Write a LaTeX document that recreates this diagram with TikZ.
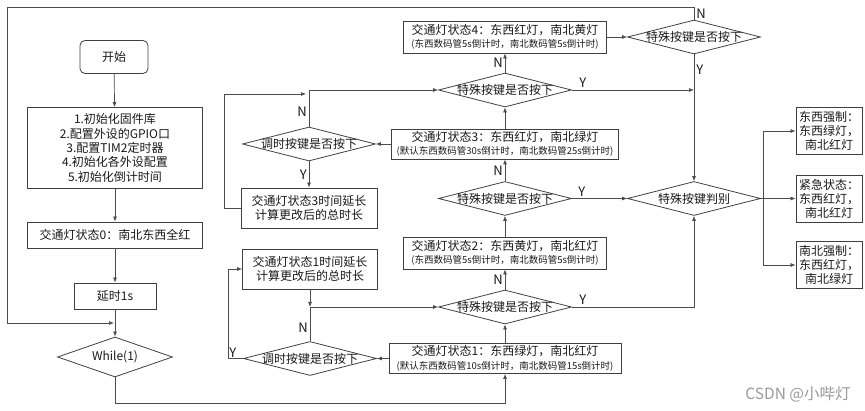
\documentclass[tikz,border=0pt]{standalone}
\usepackage{fontspec}
\setmainfont{Noto Sans CJK SC}
\usetikzlibrary{arrows.meta,shapes.geometric}

\tikzset{
  box/.style={draw=black!75, line width=0.8pt, align=center, inner sep=0pt},
  dia/.style={draw=black!75, line width=0.8pt, diamond, aspect=3.9,
    inner xsep=-5pt, inner ysep=0pt, minimum width=133pt, minimum height=34pt},
  ln/.style={draw=black!70, line width=0.7pt, ->},
  yn/.style={font=\fontsize{13}{14}\selectfont, inner sep=2pt},
}
\newcommand{\smalltxt}[1]{{\fontsize{9.5}{11}\selectfont #1}}

\begin{document}
\begin{tikzpicture}[x=1pt, y=-1pt, >={Latex[length=5pt,width=4pt]},
  font=\fontsize{12}{13.5}\selectfont, text=black!90]
\useasboundingbox (0,0) rectangle (865,411);
% left column: start up
\node[box, rounded corners=5pt, minimum width=68pt, minimum height=33pt] (start) at (114,57) {开始};
\node[box, minimum width=175pt, minimum height=81pt, font=\fontsize{12}{14.3}\selectfont] (init) at (115,148)
  {1.初始化固件库\\2.配置外设的GPIO口\\3.配置TIM2定时器\\4.初始化各外设配置\\5.初始化倒计时间};
\node[box, minimum width=175pt, minimum height=26pt] (s0) at (115,235) {交通灯状态0：南北东西全红};
\node[box, minimum width=82pt, minimum height=26pt] (delay) at (115,296) {延时1s};
\node[dia, minimum width=115pt, minimum height=40pt] (loop) at (115,357) {While(1)};
% middle column: the four states
\node[box, minimum width=232pt, minimum height=30pt] (s1) at (505,358.5)
  {交通灯状态1：东西绿灯，南北红灯\\\smalltxt{(默认东西数码管10s倒计时，南北数码管15s倒计时)}};
\node[dia] (k1) at (505,307) {特殊按键是否按下};
\node[box, minimum width=203pt, minimum height=32pt] (s2) at (505,253)
  {交通灯状态2：东西黄灯，南北红灯\\\smalltxt{(东西数码管5s倒计时，南北数码管5s倒计时)}};
\node[dia] (k2) at (505,198.5) {特殊按键是否按下};
\node[box, minimum width=227pt, minimum height=30pt] (s3) at (505,144)
  {交通灯状态3：东西红灯，南北绿灯\\\smalltxt{(默认东西数码管30s倒计时，南北数码管25s倒计时)}};
\node[dia] (k3) at (505,90) {特殊按键是否按下};
\node[box, minimum width=203pt, minimum height=32pt] (s4) at (505,37)
  {交通灯状态4：东西红灯，南北黄灯\\\smalltxt{(东西数码管5s倒计时，南北数码管5s倒计时)}};
% time adjust loops
\node[dia] (adj3) at (309,144) {调时按键是否按下};
\node[box, minimum width=136pt, minimum height=40pt] (ext3) at (309,208) {交通灯状态3时间延长\\计算更改后的总时长};
\node[box, minimum width=135pt, minimum height=40pt] (ext1) at (310,269) {交通灯状态1时间延长\\计算更改后的总时长};
\node[dia] (adj1) at (310,358.5) {调时按键是否按下};
% special keys
\node[dia] (k4) at (694,37) {特殊按键是否按下};
\node[dia] (judge) at (694,198.5) {特殊按键判别};
\node[box, minimum width=66pt, minimum height=47pt, font=\fontsize{12}{14}\selectfont] (ew) at (829,131) {东西强制：\\东西绿灯，\\南北红灯};
\node[box, minimum width=66pt, minimum height=47pt, font=\fontsize{12}{14}\selectfont] (emg) at (829,198.5) {紧急状态：\\东西红灯，\\南北红灯};
\node[box, minimum width=66pt, minimum height=47pt, font=\fontsize{12}{14}\selectfont] (ns) at (829,265) {南北强制：\\东西红灯，\\南北绿灯};
\node[text=black!40, font=\fontsize{15.5}{17}\selectfont] (mark) at (798,394) {CSDN @小哔灯};

\coordinate (corner) at (7,7);
\coordinate (entry) at (114,323);
\coordinate (m3) at (306,94);

\draw[ln] (start) -- (init);
\draw[ln] (init) -- (s0);
\draw[ln] (s0) -- (delay);
\draw[ln] (delay) -- (loop);
\draw[ln] (loop.south) -- ++(0,26) -| (s1.south);
% state chain
\draw[ln] (s1) -- (k1);
\draw[ln] (k1) -- node[yn, left]{N} (s2);
\draw[ln] (s2) -- (k2);
\draw[ln] (k2) -- node[yn, left]{N} (s3);
\draw[ln] (s3) -- (k3);
\draw[ln] (k3) -- node[yn, left]{N} (s4);
\draw[ln] (s4) -- (k4);
\draw[ln] (k4.north) -- node[yn, right]{N} (k4.north |- corner) -- (corner) |- (entry);
\draw[ln] (k4) -- node[yn, right, pos=0.12]{Y} (judge);
\draw[ln] (k3.east) -- node[yn, above, pos=0.09]{Y} (k3.east -| judge);
\draw[ln] (k2) -- node[yn, above, pos=0.18]{Y} (judge);
\draw[ln] (k1.east) -- node[yn, above, pos=0.09]{Y} (k1.east -| judge) -- (judge.south);
% adjust loops
\draw[ln] (s3) -- (adj3);
\draw[ln] (adj3.north) -- node[yn, left, pos=0.4]{N} (adj3.north |- k3.west) -- (k3.west);
\draw[ln] (adj3) -- node[yn, left]{Y} (ext3);
\draw[ln] (ext3.west) -- ++(-16,0) |- (m3);
\draw[ln] (s1) -- (adj1);
\draw[ln] (adj1.north) -- node[yn, left, pos=0.4]{N} (adj1.north |- k1.west) -- (k1.west);
\draw[ln] (adj1.west) -- ++(-15,0) node[yn, above right, inner sep=1pt]{Y} |- (ext1.west);
\draw[ln] (ext1) -- (ext1.south |- k1.west);
% judge branches
\draw[ln] (judge) -- (emg);
\draw[ln] (judge.east) -- ++(2,0) |- (ew.west);
\draw[ln] (judge.east) -- ++(2,0) |- (ns.west);
\end{tikzpicture}
\end{document}
